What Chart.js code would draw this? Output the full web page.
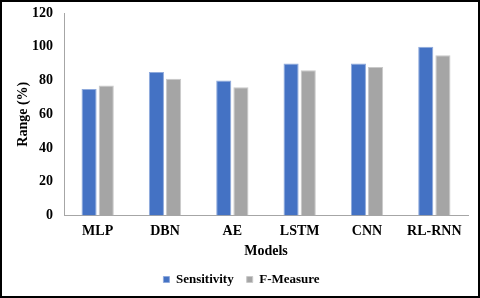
<!DOCTYPE html>
<html>
<head>
<meta charset="utf-8">
<script src="https://cdn.jsdelivr.net/npm/chart.js@4/dist/chart.umd.min.js"></script>
<style>
    html, body { margin: 0; padding: 0; background: #fff; }
    #frame {
        width: 480px;
        height: 298px;
        box-sizing: border-box;
        border: 2px solid #000;
        position: relative;
    }
    #chart { display: block; }
</style>
</head>
<body>
<div id="frame">
    <canvas id="chart" width="476" height="294"></canvas>
</div>
<script>
const models = ['MLP', 'DBN', 'AE', 'LSTM', 'CNN', 'RL-RNN'];
const sensitivity = [75, 85, 80, 90, 90, 100];
const fMeasure = [77, 81, 76, 86, 88, 95];
const yTicks = [0, 20, 40, 60, 80, 100, 120];

const serif = '"Liberation Serif", "Times New Roman", serif';

new Chart(document.getElementById('chart').getContext('2d'), {
    type: 'bar',
    data: {
        labels: models,
        datasets: [{
            label: 'Sensitivity',
            data: sensitivity,
            backgroundColor: '#4472C4',
            borderColor: '#8FAADC',
            borderWidth: 1
        }, {
            label: 'F-Measure',
            data: fMeasure,
            backgroundColor: '#A5A5A5',
            borderColor: '#C9C9C9',
            borderWidth: 1
        }]
    },
    options: {
        responsive: false,
        animation: false,
        layout: {
            padding: { left: 13, right: 10, top: 0, bottom: 0 }
        },
        datasets: {
            bar: {
                categoryPercentage: 0.51,
                barPercentage: 0.88
            }
        },
        plugins: {
            tooltip: { enabled: false },
            legend: {
                position: 'bottom',
                labels: {
                    boxWidth: 6,
                    boxHeight: 6,
                    padding: 13,
                    color: '#000',
                    font: { family: serif, size: 13, weight: 'bold' }
                }
            }
        },
        scales: {
            x: {
                grid: { display: false, drawTicks: false },
                border: { color: '#A6A6A6', width: 1 },
                ticks: {
                    color: '#000',
                    padding: 8,
                    font: { family: serif, size: 14, weight: 'bold' }
                },
                title: {
                    display: true,
                    text: 'Models',
                    color: '#000',
                    padding: { top: -5, bottom: 0 },
                    font: { family: serif, size: 14, weight: 'bold' }
                }
            },
            y: {
                min: 0,
                max: 120,
                afterBuildTicks: axis => {
                    axis.ticks = yTicks.map(v => ({ value: v }));
                },
                // keep the plot close to the frame like the original
                afterFit: axis => {
                    axis.paddingTop = 11;
                    axis.width = 49;
                },
                grid: { display: false, drawTicks: false },
                border: { color: '#A6A6A6', width: 1 },
                ticks: {
                    color: '#000',
                    padding: 11,
                    font: { family: serif, size: 14, weight: 'bold' }
                },
                title: {
                    display: true,
                    text: 'Range (%)',
                    color: '#000',
                    padding: { top: 0, bottom: 0 },
                    font: { family: serif, size: 14, weight: 'bold' }
                }
            }
        }
    }
});
</script>
</body>
</html>
